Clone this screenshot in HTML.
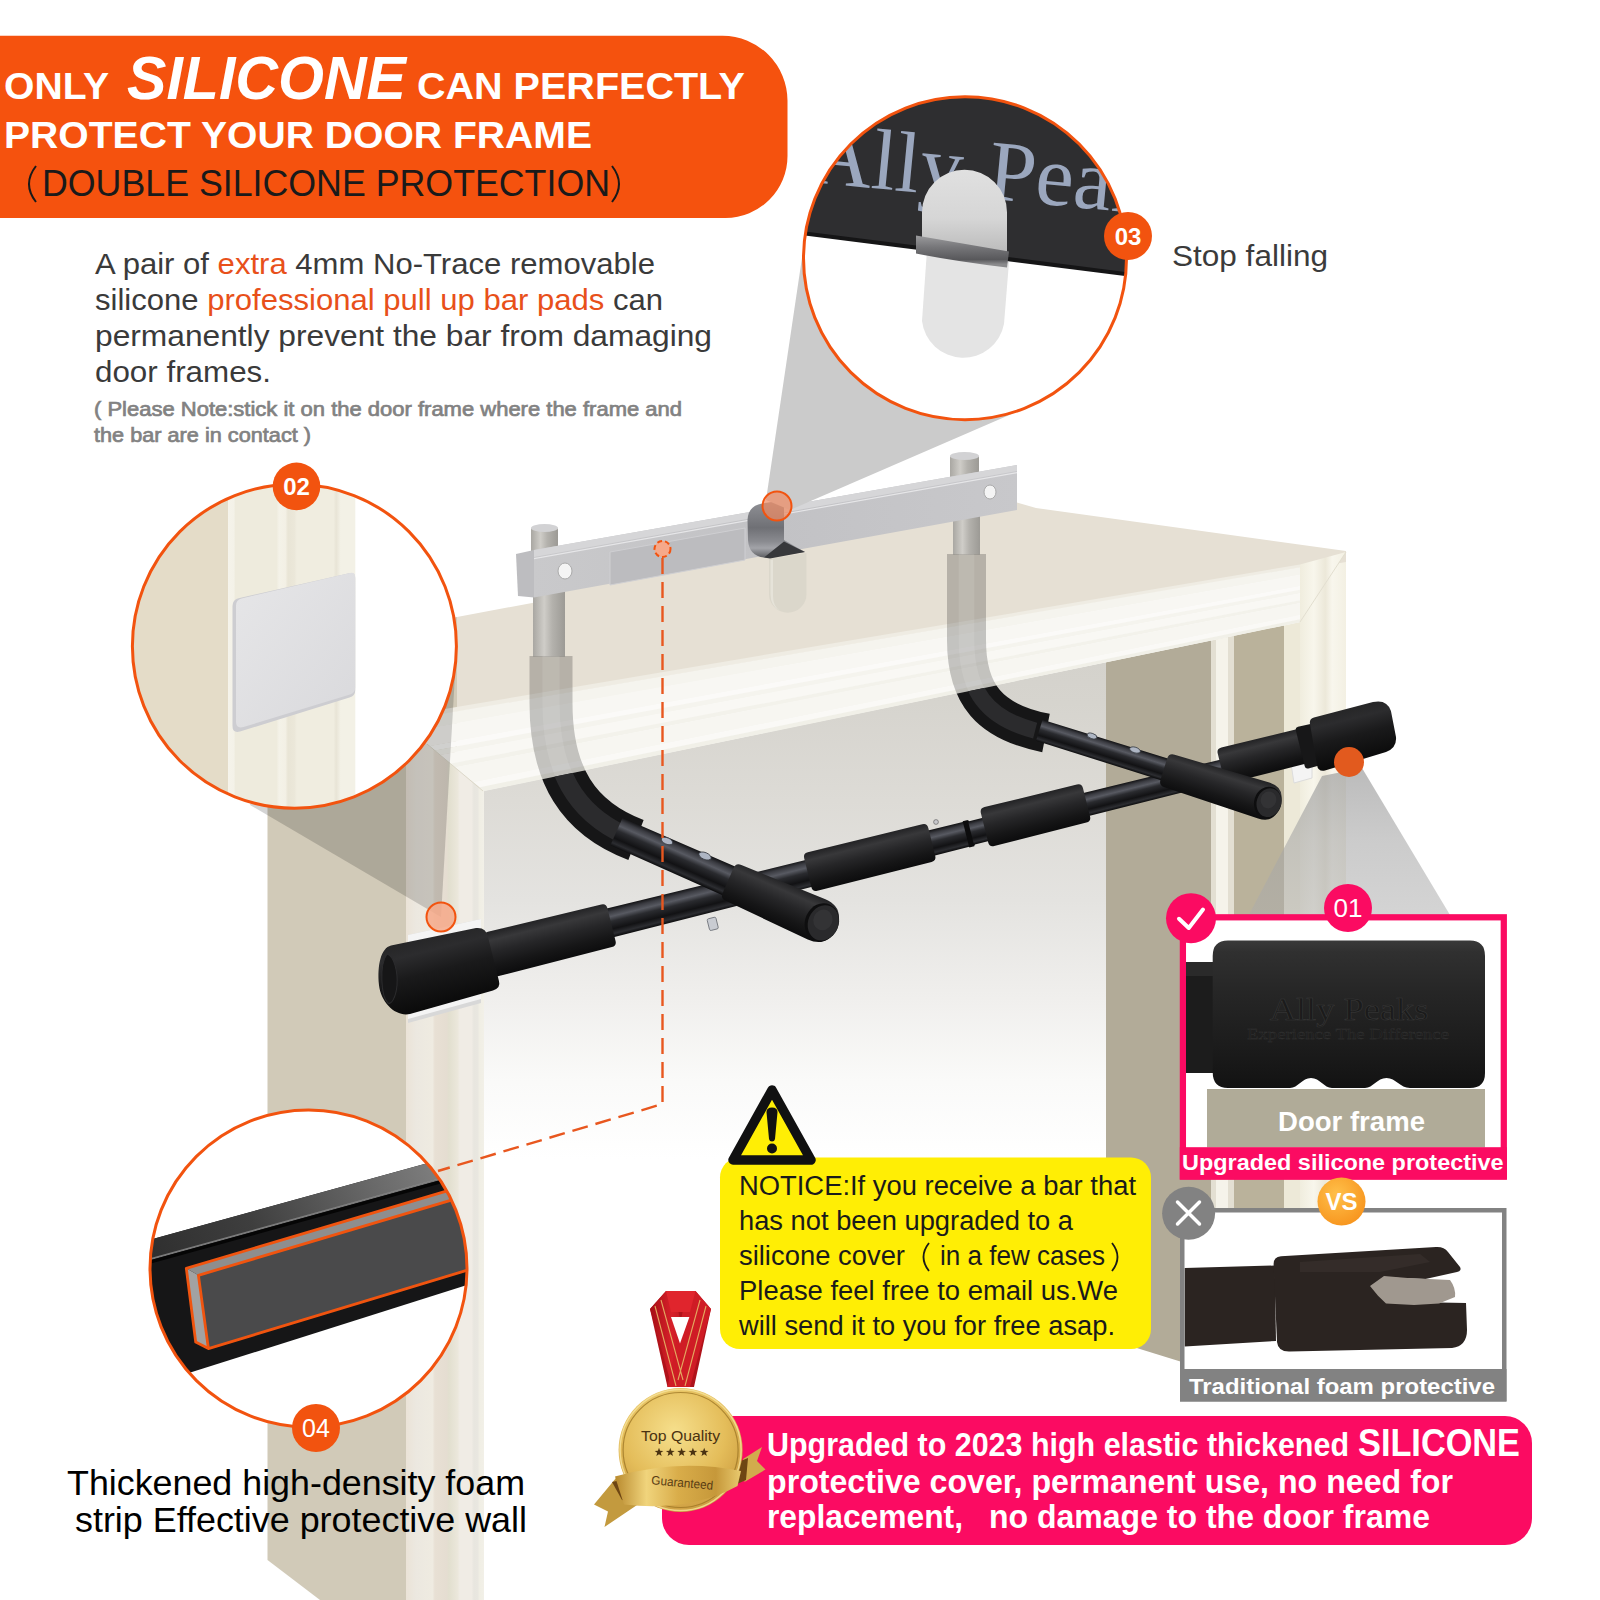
<!DOCTYPE html>
<html><head><meta charset="utf-8"><title>Silicone door frame protection</title>
<style>html,body{margin:0;padding:0;background:#fff}svg{display:block}text{white-space:pre}</style></head>
<body><svg width="1600" height="1600" viewBox="0 0 1600 1600">
<defs>
<linearGradient id="gDoor" x1="0" y1="640" x2="0" y2="1160" gradientUnits="userSpaceOnUse">
 <stop offset="0" stop-color="#d3d1cb"/><stop offset="0.12" stop-color="#d6d4ce"/><stop offset="0.31" stop-color="#dddbd6"/><stop offset="0.5" stop-color="#e4e3e0"/><stop offset="0.69" stop-color="#f0efed"/><stop offset="0.85" stop-color="#fafaf9"/><stop offset="1" stop-color="#ffffff"/>
</linearGradient>
<linearGradient id="gTrimH" x1="0" y1="0" x2="0.19" y2="1">
 <stop offset="0" stop-color="#ece8da"/><stop offset="0.25" stop-color="#f6f4ea"/><stop offset="0.55" stop-color="#fbfaf3"/><stop offset="0.8" stop-color="#f3f0e4"/><stop offset="1" stop-color="#f6f3e8"/>
</linearGradient>
<linearGradient id="gTrimL" x1="406" y1="0" x2="484" y2="0" gradientUnits="userSpaceOnUse">
 <stop offset="0" stop-color="#ebe3d7"/><stop offset="0.13" stop-color="#ece8e0"/><stop offset="0.34" stop-color="#efebe1"/><stop offset="0.37" stop-color="#e8e0d4"/><stop offset="0.52" stop-color="#e5ddd1"/><stop offset="0.55" stop-color="#e2dfcf"/><stop offset="0.66" stop-color="#ebe7db"/><stop offset="0.69" stop-color="#f0ece5"/><stop offset="0.84" stop-color="#f0ece5"/><stop offset="0.87" stop-color="#e8e6df"/><stop offset="0.92" stop-color="#e9e7e0"/><stop offset="0.94" stop-color="#f0eee4"/><stop offset="1" stop-color="#f2f0e8"/>
</linearGradient>
<linearGradient id="gTrimR" x1="1300" y1="0" x2="1346" y2="0" gradientUnits="userSpaceOnUse">
 <stop offset="0" stop-color="#f0edde"/><stop offset="0.3" stop-color="#f8f6ec"/><stop offset="0.55" stop-color="#ece8d9"/><stop offset="0.7" stop-color="#f8f6ed"/><stop offset="1" stop-color="#f3f0e3"/>
</linearGradient>
<linearGradient id="gPlate" x1="0" y1="0" x2="1" y2="0">
 <stop offset="0" stop-color="#c9c9cb"/><stop offset="0.5" stop-color="#c2c2c5"/><stop offset="1" stop-color="#c8c8cb"/>
</linearGradient>
<linearGradient id="gChrome" x1="0" y1="0" x2="1" y2="0">
 <stop offset="0" stop-color="#a9a7a2"/><stop offset="0.35" stop-color="#cfcdc8"/><stop offset="0.6" stop-color="#b4b2ad"/><stop offset="1" stop-color="#9c9a95"/>
</linearGradient>
<linearGradient id="gCone1" x1="0" y1="765" x2="0" y2="915" gradientUnits="userSpaceOnUse">
 <stop offset="0" stop-color="#9a9a9a" stop-opacity="0.68"/><stop offset="0.5" stop-color="#a6a6a6" stop-opacity="0.58"/><stop offset="1" stop-color="#acacac" stop-opacity="0.52"/>
</linearGradient>
<radialGradient id="gVS" cx="0.4" cy="0.35" r="0.7">
 <stop offset="0" stop-color="#ffc04a"/><stop offset="1" stop-color="#f7941d"/>
</radialGradient>
<radialGradient id="gMedal" cx="0.45" cy="0.35" r="0.75">
 <stop offset="0" stop-color="#f6df8c"/><stop offset="0.55" stop-color="#e4bd5a"/><stop offset="0.85" stop-color="#cfa043"/><stop offset="1" stop-color="#b98a2e"/>
</radialGradient>
<linearGradient id="gRibbon" x1="0" y1="0" x2="1" y2="1">
 <stop offset="0" stop-color="#f5dc8a"/><stop offset="0.5" stop-color="#c99535"/><stop offset="1" stop-color="#8a5a14"/>
</linearGradient>
<linearGradient id="gPad" x1="0" y1="0" x2="1" y2="1">
 <stop offset="0" stop-color="#e6e6e8"/><stop offset="1" stop-color="#d9d9dc"/>
</linearGradient>
<linearGradient id="gClipHook" x1="0" y1="0" x2="0" y2="1">
 <stop offset="0" stop-color="#dedede"/><stop offset="0.3" stop-color="#d4d4d4"/><stop offset="0.42" stop-color="#9a9a9a"/><stop offset="0.47" stop-color="#6f6f6f"/><stop offset="0.5" stop-color="#e2e2e2"/><stop offset="1" stop-color="#e9e9e9"/>
</linearGradient>
<linearGradient id="gCapBig" x1="0" y1="940" x2="0" y2="1090" gradientUnits="userSpaceOnUse">
 <stop offset="0" stop-color="#3a3a3a"/><stop offset="0.08" stop-color="#303030"/><stop offset="0.35" stop-color="#262626"/><stop offset="0.7" stop-color="#1c1c1c"/><stop offset="1" stop-color="#121212"/>
</linearGradient>

<linearGradient id="gFoam" x1="0" y1="0" x2="0" y2="1">
 <stop offset="0" stop-color="#222224"/><stop offset="0.2" stop-color="#38383a"/><stop offset="0.45" stop-color="#262628"/><stop offset="0.75" stop-color="#161617"/><stop offset="1" stop-color="#0c0c0d"/>
</linearGradient>
<linearGradient id="gTube" x1="0" y1="0" x2="0" y2="1">
 <stop offset="0" stop-color="#101012"/><stop offset="0.14" stop-color="#3a3b41"/><stop offset="0.3" stop-color="#585a62"/><stop offset="0.46" stop-color="#2a2b2f"/><stop offset="0.72" stop-color="#121214"/><stop offset="0.88" stop-color="#2c2d31"/><stop offset="1" stop-color="#09090a"/>
</linearGradient>
<linearGradient id="gCap" x1="0" y1="0" x2="0" y2="1">
 <stop offset="0" stop-color="#262627"/><stop offset="0.2" stop-color="#2c2c2e"/><stop offset="0.5" stop-color="#1a1a1b"/><stop offset="1" stop-color="#0a0a0a"/>
</linearGradient>
<linearGradient id="gFoamGhost" x1="0" y1="0" x2="1" y2="0">
 <stop offset="0" stop-color="#aeaca6"/><stop offset="0.5" stop-color="#b9b7b1"/><stop offset="1" stop-color="#a9a7a1"/>
</linearGradient>
<linearGradient id="gFoamV" x1="0" y1="0" x2="1" y2="0">
 <stop offset="0" stop-color="#101011"/><stop offset="0.4" stop-color="#2b2b2d"/><stop offset="1" stop-color="#141415"/>
</linearGradient>

<clipPath id="clipBelow"><polygon points="400,808.7 1400,601.9 1400,1700 400,1700"/></clipPath>
<clipPath id="clipAbove"><polygon points="400,808.7 1400,601.9 1400,300 400,300"/></clipPath>
<linearGradient id="gWrap" x1="0" y1="503" x2="0" y2="558" gradientUnits="userSpaceOnUse"><stop offset="0" stop-color="#8e8f94"/><stop offset="0.45" stop-color="#6f7075"/><stop offset="0.7" stop-color="#8a8b90"/><stop offset="0.82" stop-color="#a2a3a8"/><stop offset="1" stop-color="#5a5b5f"/></linearGradient>
<clipPath id="c02"><circle cx="294.4" cy="646.2" r="162.0"/></clipPath>
<clipPath id="c03"><circle cx="965.0" cy="258.2" r="161.5"/></clipPath>
<clipPath id="c04"><circle cx="308.5" cy="1268.5" r="158.5"/></clipPath>
<linearGradient id="g02trim" x1="228.3" y1="0" x2="355.2" y2="0" gradientUnits="userSpaceOnUse">
 <stop offset="0" stop-color="#f5f3ea"/><stop offset="0.045" stop-color="#f4f2e8"/><stop offset="0.055" stop-color="#eeebdd"/><stop offset="0.38" stop-color="#eeebdd"/>
 <stop offset="0.40" stop-color="#f4f2e8"/><stop offset="0.45" stop-color="#f3f0e5"/><stop offset="0.47" stop-color="#e9e5d6"/><stop offset="0.52" stop-color="#ebe7d9"/><stop offset="0.54" stop-color="#f0ede0"/>
 <stop offset="0.83" stop-color="#f0ede0"/><stop offset="0.85" stop-color="#e8e4d6"/><stop offset="0.885" stop-color="#f3f1e6"/><stop offset="1" stop-color="#f3f1e6"/>
</linearGradient>
<linearGradient id="g04top" x1="150" y1="1300" x2="470" y2="1150" gradientUnits="userSpaceOnUse">
 <stop offset="0" stop-color="#2c2c2c"/><stop offset="0.35" stop-color="#3e3e3e"/><stop offset="0.7" stop-color="#686868"/><stop offset="1" stop-color="#8a8a8a"/>
</linearGradient>
<linearGradient id="gHookU" x1="0" y1="170" x2="0" y2="250" gradientUnits="userSpaceOnUse"><stop offset="0" stop-color="#e0e0e0"/><stop offset="0.6" stop-color="#d6d6d6"/><stop offset="1" stop-color="#bdbdbd"/></linearGradient>
<linearGradient id="gHookB" x1="0" y1="236" x2="0.12" y2="268" gradientUnits="userSpaceOnUse"><stop offset="0" stop-color="#a4a4a6"/><stop offset="0.45" stop-color="#77777a"/><stop offset="0.85" stop-color="#58585b"/><stop offset="1" stop-color="#8a8a8c"/></linearGradient>
<linearGradient id="gRedL" x1="0" y1="0" x2="1" y2="0"><stop offset="0" stop-color="#a50f15"/><stop offset="0.5" stop-color="#d7202a"/><stop offset="1" stop-color="#a8121a"/></linearGradient>
<linearGradient id="gBan" x1="0" y1="0" x2="1" y2="0"><stop offset="0" stop-color="#b98a2e"/><stop offset="0.25" stop-color="#f0d47c"/><stop offset="0.5" stop-color="#d9ad4a"/><stop offset="0.8" stop-color="#c6983a"/><stop offset="1" stop-color="#e8c96e"/></linearGradient>
</defs>
<rect width="1600" height="1600" fill="#fff"/>
<g id="door"><polygon points="483.0,791.0 1106.0,662.2 1106.0,1340.0 483.0,1600.0" fill="url(#gDoor)"/>
<polygon points="1106.0,662.2 1211.0,640.4 1211.0,1371.0 1106.0,1338.4" fill="#b2ab98"/>
<polygon points="1211.0,640.4 1234.0,635.7 1234.0,1400.0 1211.0,1371.0" fill="#e3dfd2"/>
<polygon points="1216.0,639.4 1228.0,636.9 1228.0,1394.0 1216.0,1382.0" fill="#f5f3ea"/>
<polygon points="1234.0,635.7 1284.0,625.4 1284.0,1400.0 1234.0,1400.0" fill="#bab29b"/>
<polygon points="1284.0,625.4 1302.0,621.6 1302.0,1400.0 1284.0,1400.0" fill="#ede9d8"/>
<polygon points="1300.0,622.0 1346.0,552.0 1346.0,1400.0 1300.0,1400.0" fill="url(#gTrimR)"/>
<polygon points="267.5,652.6 457.0,617.0 457.0,760.0 406.0,760.0 406.0,1600.0 320.0,1600.0 267.5,1560.0" fill="#d1cab8"/>
<polygon points="457.0,617.0 556.0,598.4 562.0,590.0 1008.0,500.0 1036.0,508.0 1346.0,551.0 1346.0,562.0 457.0,712.9" fill="#e6e0d4"/>
<polygon points="406.0,715.5 1300.0,564.5 1300.0,567.6 406.0,720.5" fill="#efece3"/>
<polygon points="406.0,720.1 1300.0,567.3 1300.0,575.1 406.0,732.4" fill="#f5f4ee"/>
<polygon points="406.0,732.0 1300.0,574.8 1300.0,586.6 406.0,750.6" fill="#f8f7f3"/>
<polygon points="406.0,750.3 1300.0,586.3 1300.0,590.0 406.0,756.1" fill="#fbfaf8"/>
<polygon points="406.0,755.8 1300.0,589.8 1300.0,593.5 406.0,761.6" fill="#f5f4ee"/>
<polygon points="406.0,761.2 1300.0,593.3 1300.0,600.4 406.0,772.6" fill="#f9f8f4"/>
<polygon points="406.0,772.2 1300.0,600.2 1300.0,603.3 406.0,777.1" fill="#f3f2eb"/>
<polygon points="406.0,776.8 1300.0,603.0 1300.0,615.4 406.0,796.3" fill="#f7f6f1"/>
<polygon points="406.0,796.0 1300.0,615.1 1300.0,619.4 406.0,802.7" fill="#faf9f6"/>
<polygon points="406.0,802.4 1300.0,619.2 1300.0,622.3 406.0,807.3" fill="#f1f0e8"/>
<polygon points="1300.0,564.5 1346.0,552.0 1300.0,622.0" fill="url(#gTrimR)"/>
<path d="M1300,622.0 L1346,552" stroke="#e2decf" stroke-width="1" fill="none"/>
<polygon points="406.0,725.5 430.0,747.0 484.0,790.8 484.0,1600.0 406.0,1600.0" fill="url(#gTrimL)"/>
<path d="M427,744 L483,791.0" stroke="#dcd8c9" stroke-width="1" fill="none"/></g>
<polygon points="441.0,917.0 250.0,805.0 294.4,646.2 456.1,655.6" fill="#000" opacity="0.17"/>
<g id="bar"><rect x="531" y="527" width="27" height="40" rx="3" fill="url(#gChrome)"/><ellipse cx="544.5" cy="528" rx="13.5" ry="4" fill="#d2d2d4"/><rect x="950" y="455" width="29" height="40" rx="3" fill="url(#gChrome)"/><ellipse cx="964.5" cy="456" rx="14.5" ry="4" fill="#d2d2d4"/><rect x="533" y="590" width="32" height="66.5" fill="url(#gChrome)"/><rect x="953" y="505" width="27" height="49.5" fill="url(#gChrome)"/><polygon points="534.0,550.0 1017.0,465.0 1017.0,510.0 534.0,597.5" fill="url(#gPlate)"/><polygon points="534.0,550.0 1017.0,465.0 1017.0,471.0 534.0,557.0" fill="#d6d6d8"/><polygon points="516.0,554.0 534.0,550.0 534.0,597.5 518.0,596.0" fill="#bdbdc0"/><polygon points="534.0,558.0 1017.0,472.0 1017.0,473.2 534.0,559.2" fill="#e6e6e8"/><polygon points="610.0,552.0 745.0,528.0 745.0,560.0 610.0,585.0" fill="#bcbcbf" stroke="#cfcfd2" stroke-width="1"/><ellipse cx="565" cy="571" rx="7" ry="8" fill="#f4f4f4" stroke="#aaa" stroke-width="1"/><ellipse cx="990" cy="492" rx="6" ry="7" fill="#f4f4f4" stroke="#aaa" stroke-width="1"/><path d="M769,559 L806.5,553 L806.5,594 A18.7,18.7 0 0 1 769,594 Z" fill="#dbd7cb"/><path d="M770.5,560 L773,559.5 L773,596 Q773,606 780,611 Q770.5,606 770.5,594 Z" fill="#e6e3d9"/><path d="M762,503.5 Q748,506 747.5,520 L748,540 Q749,556 764,557.5 L805,552 L784,540 L784,500 Z" fill="url(#gWrap)"/><path d="M764,557.5 L784,541.5 L805,552 L770,558.5 Z" fill="#37383b"/><g clip-path="url(#clipAbove)"><path d="M551,656 L551,703 C551,775 578,818 636,840" fill="none" stroke="#1e1e1e" stroke-width="43" opacity="0.24"/><path d="M551,656 L551,703 C551,775 578,818 636,840" fill="none" stroke="#ffffff" stroke-width="17.2" opacity="0.10"/></g><g clip-path="url(#clipBelow)"><path d="M551,656 L551,703 C551,775 578,818 636,840" fill="none" stroke="#161617" stroke-width="43"/><path d="M551,656 L551,703 C551,775 578,818 636,840" fill="none" stroke="#2b2b2d" stroke-width="18.06" pathLength="1" stroke-dasharray="0.95 1"/></g><g clip-path="url(#clipAbove)"><path d="M966.5,554 L966.5,640 C966.5,695 990,722 1046,733" fill="none" stroke="#1e1e1e" stroke-width="39" opacity="0.24"/><path d="M966.5,554 L966.5,640 C966.5,695 990,722 1046,733" fill="none" stroke="#ffffff" stroke-width="15.600000000000001" opacity="0.10"/></g><g clip-path="url(#clipBelow)"><path d="M966.5,554 L966.5,640 C966.5,695 990,722 1046,733" fill="none" stroke="#161617" stroke-width="39"/><path d="M966.5,554 L966.5,640 C966.5,695 990,722 1046,733" fill="none" stroke="#2b2b2d" stroke-width="16.38" pathLength="1" stroke-dasharray="0.95 1"/></g><polygon points="408.0,935.0 481.0,919.0 481.0,1003.0 408.0,1023.0" fill="#d8d8d8"/><polygon points="408.0,935.0 481.0,919.0 481.0,999.0 408.0,1019.0" fill="#f4f4f4"/><polygon points="1288.0,744.0 1312.0,737.0 1312.0,778.0 1294.0,783.0" fill="#f4f4f4" stroke="#dcdcdc" stroke-width="1"/><g fill="#c9ccd2" stroke="#6c6f76" stroke-width="0.8"><rect x="708" y="918" width="9" height="12" rx="1.5" transform="rotate(-14 712 923)"/><rect x="1150" y="786" width="8" height="10" rx="1.5" transform="rotate(-14 1154 790)"/></g><circle cx="936" cy="822" r="2.4" fill="#c8c8cc" stroke="#555" stroke-width="0.6"/><g transform="translate(380.0,980.0) rotate(-13.954)"><path d="M226.7,-14.8 L445.1,-13.8 L445.1,13.8 L226.7,14.8 Z" fill="url(#gTube)" /><path d="M562.6,-13.0 L610.0,-12.8 L610.0,12.8 L562.6,13.0 Z" fill="url(#gTube)" /><path d="M607.9,-12.0 L628.5,-12.0 L628.5,12.0 L607.9,12.0 Z" fill="url(#gTube)" /><path d="M603.8,-13.6 L609.0,-13.6 L609.0,13.6 L603.8,13.6 Z" fill="#0c0c0d" /><path d="M719.2,-11.8 L873.8,-11.2 L873.8,11.2 L719.2,11.8 Z" fill="url(#gTube)" /><g transform="translate(0,2)"><path d="M116.3,-22.8 L233.0,-22.0 Q238.0,-22.0 238.0,-17.0 L238.0,17.0 Q238.0,22.0 233.0,22.0 L116.3,22.8 Q111.3,22.8 111.3,17.8 L111.3,-17.8 Q111.3,-22.8 116.3,-22.8 Z" fill="url(#gFoam)" /></g><g transform="translate(0,-1)"><path d="M446.0,-19.8 L563.8,-19.4 Q568.8,-19.4 568.8,-14.4 L568.8,14.4 Q568.8,19.4 563.8,19.4 L446.0,19.8 Q441.0,19.8 441.0,14.8 L441.0,-14.8 Q441.0,-19.8 446.0,-19.8 Z" fill="url(#gFoam)" /></g><g transform="translate(0,-2)"><path d="M628.4,-20.0 L723.5,-19.6 Q728.5,-19.6 728.5,-14.6 L728.5,14.6 Q728.5,19.6 723.5,19.6 L628.4,20.0 Q623.4,20.0 623.4,15.0 L623.4,-15.0 Q623.4,-20.0 628.4,-20.0 Z" fill="url(#gFoam)" /></g><g transform="translate(0,-4.5)"><path d="M872.6,-18.2 L955.3,-17.8 Q960.3,-17.8 960.3,-12.8 L960.3,12.8 Q960.3,17.8 955.3,17.8 L872.6,18.2 Q867.6,18.2 867.6,13.2 L867.6,-13.2 Q867.6,-18.2 872.6,-18.2 Z" fill="url(#gFoam)" /></g><g transform="translate(0,-3)"><path d="M952.0,-21.5 L970.6,-21.0 L970.6,21.0 L952.0,21.5 Q949.0,21.5 949.0,18.5 L949.0,-18.5 Q949.0,-21.5 952.0,-21.5 Z" fill="#171718" /></g><path d="M19.0,-30.8 L105.7,-27.3 Q115.7,-25.9 115.2,-15.7 L115.2,29.7 Q115.5,36.9 107.1,37.4 L20.9,40.2 C6.6,39.8 -4.6,22.6 -2.2,4.6 C0.7,-15.3 8.7,-30.8 19.0,-30.8 Z" fill="url(#gCap)" /><path d="M13.1,-23.5 C19.4,-19.9 19.4,-3.4 15.3,9.0 C11.2,21.3 4.6,26.9 2.2,24.3 C-3.1,16.7 2.6,-14.8 13.1,-23.5 Z" fill="#161617" stroke="#2c2c2e" stroke-width="1"/><path d="M969.7,-29.5 L1030.7,-30.3 Q1045.0,-29.9 1046.0,-17.3 L1044.6,9.2 Q1042.9,20.1 1031.3,21.3 L967.6,24.6 Q960.5,24.3 961.2,17.3 L964.3,-24.2 Q964.5,-29.3 969.7,-29.5 Z" fill="url(#gCap)" /></g><g transform="translate(622.0,834.0) rotate(23.686)"><path d="M-6.0,-15.0 L119.8,-15.6 L119.8,15.6 L-6.0,15.0 Z" fill="url(#gTube)" /><path d="M121.8,-19.5 L212.5,-22.0 Q233.5,-22.0 233.5,-1.0 L233.5,1.0 Q233.5,22.0 212.5,22.0 L121.8,19.5 Q115.8,19.5 115.8,13.5 L115.8,-13.5 Q115.8,-19.5 121.8,-19.5 Z" fill="url(#gFoam)" /><ellipse cx="218.5" cy="0.5" rx="16.8" ry="19.5" fill="#0e0e0f"/><ellipse cx="220.0" cy="0.5" rx="15.1" ry="18.1" fill="#2a2a2c"/><ellipse cx="218.5" cy="-2" rx="9.5" ry="10.5" fill="#363638" opacity="0.8"/></g><g transform="translate(1045.0,732.0) rotate(17.396)"><path d="M-6.0,-11.0 L128.5,-11.4 L128.5,11.4 L-6.0,11.0 Z" fill="url(#gTube)" /><path d="M130.5,-17.0 L229.2,-18.8 Q246.2,-18.8 246.2,-1.8 L246.2,1.8 Q246.2,18.8 229.2,18.8 L130.5,17.0 Q124.5,17.0 124.5,11.0 L124.5,-11.0 Q124.5,-17.0 130.5,-17.0 Z" fill="url(#gFoam)" /><ellipse cx="233.6" cy="0.5" rx="13.6" ry="15.8" fill="#0e0e0f"/><ellipse cx="234.8" cy="0.5" rx="12.2" ry="14.6" fill="#2a2a2c"/><ellipse cx="233.6" cy="-2" rx="7.7" ry="8.5" fill="#363638" opacity="0.8"/></g><g fill="#aeb6c4" stroke="#3b3f46" stroke-width="0.8"><ellipse cx="667" cy="841" rx="6" ry="3.2" transform="rotate(23 667 841)"/><ellipse cx="705" cy="856" rx="6.5" ry="3.4" transform="rotate(23 705 856)"/><ellipse cx="1092" cy="736" rx="5" ry="2.6" transform="rotate(18 1092 736)"/><ellipse cx="1135" cy="750" rx="5.5" ry="2.8" transform="rotate(18 1135 750)"/></g></g>
<polygon points="766.0,500.0 804.4,241.6 965.0,258.2 1024.3,408.4 790.0,510.0" fill="#cbcbcb"/>
<polygon points="1322.0,776.0 1248.8,915.0 1450.0,915.0 1362.0,768.0" fill="url(#gCone1)"/>
<circle cx="441" cy="917" r="14.5" fill="#f6a98a" fill-opacity="0.85" stroke="#f2530f" stroke-width="2"/><circle cx="777" cy="506" r="14.5" fill="#f08a62" fill-opacity="0.7" stroke="#f2530f" stroke-width="2"/><circle cx="1349" cy="762" r="15" fill="#e25a1e"/><circle cx="662.5" cy="549" r="8" fill="#f6a98a" stroke="#f2530f" stroke-width="2" stroke-dasharray="5 3"/>
<path d="M662.5,558 L662.5,1104 L438,1171" fill="none" stroke="#e8571f" stroke-width="2.4" stroke-dasharray="16 8"/>
<circle cx="294.4" cy="646.2" r="162.0" fill="#fff"/><g clip-path="url(#c02)"><rect x="120" y="470" width="108.3" height="350" fill="#e4dcc8"/><rect x="228.3" y="470" width="127" height="350" fill="url(#g02trim)"/><path d="M232.5,606 Q232.5,600 238.5,598.3 L349,573.3 Q355.2,572 355.2,578 L355.2,690.5 Q355.2,696 349.5,697.5 L240,731.5 Q232.5,733.5 232.5,726 Z" fill="#cdcdd1"/><path d="M236,605.5 Q236,600 241.5,598.5 L350,573 Q355.2,572 355.2,577 L355.2,687.5 Q355.2,693 350,694.5 L243.5,727 Q236,729 236,722 Z" fill="url(#gPad)"/></g><circle cx="294.4" cy="646.2" r="162.0" fill="none" stroke="#f2530f" stroke-width="3"/><circle cx="296.5" cy="486.4" r="23.8" fill="#f2530f"/><text x="296.5" y="495.03999999999996" font-family="Liberation Sans, sans-serif" font-size="24" font-weight="bold" fill="#fff" text-anchor="middle" >02</text>
<circle cx="965.0" cy="258.2" r="161.5" fill="#fff"/><g clip-path="url(#c03)"><polygon points="790.0,80.0 1140.0,80.0 1140.0,277.0 790.0,232.7" fill="#2e2e30"/><polygon points="790.0,229.5 1140.0,273.8 1140.0,278.0 790.0,233.7" fill="#151516"/><g transform="rotate(5.5 877 188)"><text x="808" y="188.5" font-family="Liberation Serif, serif" font-size="86" fill="#9ba7be">Ally</text><text x="986.5" y="188" font-family="Liberation Serif, serif" font-size="86" fill="#9ba7be">Peaks</text></g><path d="M922,240 L922,212.2 A42.5,42.5 0 0 1 1007,212.2 L1007,256 Z" fill="url(#gHookU)"/><path d="M927,250 L1009,262 L1004,324 A41.5,41.5 0 0 1 922,321 Z" fill="#e4e4e4"/><path d="M916,235.6 L1009,251.5 L1007,267.5 Q960,262 916,253.6 Z" fill="url(#gHookB)"/></g><circle cx="965.0" cy="258.2" r="161.5" fill="none" stroke="#f2530f" stroke-width="3"/><circle cx="1128" cy="236" r="24" fill="#f2530f"/><text x="1128" y="244.64" font-family="Liberation Sans, sans-serif" font-size="24" font-weight="bold" fill="#fff" text-anchor="middle" >03</text><text x="1172" y="266" font-family="Liberation Sans, sans-serif" font-size="30" font-weight="normal" fill="#3b3b3b" text-anchor="start" textLength="156" lengthAdjust="spacingAndGlyphs" >Stop falling</text>
<circle cx="308.5" cy="1268.5" r="158.5" fill="#fff"/><g clip-path="url(#c04)"><polygon points="140.0,1242.4 480.0,1148.6 480.0,1281.0 140.0,1388.4" fill="#161617"/><polygon points="140.0,1242.4 480.0,1148.6 480.0,1167.6 140.0,1261.4" fill="url(#g04top)"/><polygon points="140.0,1260.9 480.0,1167.1 480.0,1169.1 140.0,1262.9" fill="#9a9a9a" opacity="0.75"/><polygon points="140.0,1262.9 480.0,1169.1 480.0,1172.6 140.0,1266.4" fill="#050505"/><polygon points="186.3,1268.3 480.0,1181.1 480.0,1191.7 198.4,1275.3" fill="#8e8e8e"/><polygon points="186.3,1268.3 198.4,1275.3 208.4,1348.6 195.7,1342.0" fill="#a2a2a2"/><polygon points="198.4,1275.3 480.0,1191.7 480.0,1266.3 208.4,1348.6" fill="#4a4a4b"/><path d="M480,1181.1 L186.3,1268.3 L195.7,1342 L208.4,1348.6 L480,1266.3 M480,1191.7 L198.4,1275.3 L208.4,1348.6" fill="none" stroke="#f0540f" stroke-width="2.8" stroke-linejoin="round"/></g><circle cx="308.5" cy="1268.5" r="158.5" fill="none" stroke="#f2530f" stroke-width="3"/><circle cx="316" cy="1428" r="24" fill="#f2530f"/><text x="316" y="1437.0" font-family="Liberation Sans, sans-serif" font-size="25" font-weight="normal" fill="#fff" text-anchor="middle" >04</text><text x="67" y="1495" font-family="Liberation Sans, sans-serif" font-size="35" font-weight="normal" fill="#000" text-anchor="start" textLength="458" lengthAdjust="spacingAndGlyphs" >Thickened high-density foam</text><text x="75" y="1532" font-family="Liberation Sans, sans-serif" font-size="35" font-weight="normal" fill="#000" text-anchor="start" textLength="452" lengthAdjust="spacingAndGlyphs" >strip Effective protective wall</text>
<path d="M0,35.75 L722.5,35.75 A65,65 0 0 1 787.5,100.75 L787.5,156 A62,62 0 0 1 725.5,218 L0,218 Z" fill="#f5520e"/><text x="4" y="98.5" font-family="Liberation Sans, sans-serif" font-size="36" font-weight="bold" fill="#fff" text-anchor="start" textLength="105" lengthAdjust="spacingAndGlyphs" >ONLY</text><text x="127" y="98.5" font-family="Liberation Sans, sans-serif" font-size="62" font-weight="bold" fill="#fff" text-anchor="start" textLength="279" lengthAdjust="spacingAndGlyphs" font-style="italic" >SILICONE</text><text x="417" y="98.5" font-family="Liberation Sans, sans-serif" font-size="36" font-weight="bold" fill="#fff" text-anchor="start" textLength="328" lengthAdjust="spacingAndGlyphs" >CAN PERFECTLY</text><text x="4" y="147.5" font-family="Liberation Sans, sans-serif" font-size="37" font-weight="bold" fill="#fff" text-anchor="start" textLength="588" lengthAdjust="spacingAndGlyphs" >PROTECT YOUR DOOR FRAME</text><text x="42" y="196" font-family="Liberation Sans, sans-serif" font-size="36" font-weight="normal" fill="#1a1a1a" text-anchor="start" textLength="568" lengthAdjust="spacingAndGlyphs" >DOUBLE SILICONE PROTECTION</text><path d="M36,166 Q22,184 36,202" fill="none" stroke="#1a1a1a" stroke-width="2"/><path d="M612,166 Q626,184 612,202" fill="none" stroke="#1a1a1a" stroke-width="2"/>
<text x="95" y="274" font-family="Liberation Sans, sans-serif" font-size="30" textLength="560" lengthAdjust="spacingAndGlyphs" xml:space="preserve"><tspan fill="#3a3a3a">A pair of </tspan><tspan fill="#e8501a">extra</tspan><tspan fill="#3a3a3a"> 4mm No-Trace removable</tspan></text><text x="95" y="310" font-family="Liberation Sans, sans-serif" font-size="30" textLength="568" lengthAdjust="spacingAndGlyphs" xml:space="preserve"><tspan fill="#3a3a3a">silicone </tspan><tspan fill="#e8501a">professional pull up bar pads</tspan><tspan fill="#3a3a3a"> can</tspan></text><text x="95" y="346" font-family="Liberation Sans, sans-serif" font-size="30" textLength="617" lengthAdjust="spacingAndGlyphs" xml:space="preserve"><tspan fill="#3a3a3a">permanently prevent the bar from damaging</tspan></text><text x="95" y="382" font-family="Liberation Sans, sans-serif" font-size="30" textLength="176" lengthAdjust="spacingAndGlyphs" xml:space="preserve"><tspan fill="#3a3a3a">door frames.</tspan></text><text x="94" y="416" font-family="Liberation Sans, sans-serif" font-size="20" font-weight="normal" fill="#828282" text-anchor="start" textLength="588" lengthAdjust="spacingAndGlyphs" stroke="#828282" stroke-width="0.7">( Please Note:stick it on the door frame where the frame and</text><text x="94" y="442" font-family="Liberation Sans, sans-serif" font-size="20" font-weight="normal" fill="#828282" text-anchor="start" textLength="217" lengthAdjust="spacingAndGlyphs" stroke="#828282" stroke-width="0.7">the bar are in contact )</text>
<rect x="720" y="1157.5" width="431" height="191.5" rx="20" fill="#ffee05"/><path d="M772,1090 L811,1160 L733,1160 Z" fill="#ffee05" stroke="#111" stroke-width="9.5" stroke-linejoin="round"/><path d="M766.5,1112 Q766.5,1107.5 772,1107.5 Q777.5,1107.5 777.5,1112 L775,1139 Q774.5,1141.5 772,1141.5 Q769.5,1141.5 769,1139 Z" fill="#111"/><circle cx="772" cy="1148.5" r="5" fill="#111"/><text x="739" y="1195" font-family="Liberation Sans, sans-serif" font-size="27" font-weight="normal" fill="#1a1a1a" text-anchor="start" textLength="397" lengthAdjust="spacingAndGlyphs" >NOTICE:If you receive a bar that</text><text x="739" y="1230" font-family="Liberation Sans, sans-serif" font-size="27" font-weight="normal" fill="#1a1a1a" text-anchor="start" textLength="334" lengthAdjust="spacingAndGlyphs" >has not been upgraded to a</text><text x="739" y="1265" font-family="Liberation Sans, sans-serif" font-size="27" font-weight="normal" fill="#1a1a1a" text-anchor="start" textLength="166" lengthAdjust="spacingAndGlyphs" >silicone cover</text><text x="739" y="1300" font-family="Liberation Sans, sans-serif" font-size="27" font-weight="normal" fill="#1a1a1a" text-anchor="start" textLength="379" lengthAdjust="spacingAndGlyphs" >Please feel free to email us.We</text><text x="739" y="1335" font-family="Liberation Sans, sans-serif" font-size="27" font-weight="normal" fill="#1a1a1a" text-anchor="start" textLength="376" lengthAdjust="spacingAndGlyphs" >will send it to you for free asap.</text><text x="940" y="1265" font-family="Liberation Sans, sans-serif" font-size="27" font-weight="normal" fill="#1a1a1a" text-anchor="start" textLength="165" lengthAdjust="spacingAndGlyphs" >in a few cases</text><path d="M929,1243 Q918,1257 929,1271" fill="none" stroke="#1a1a1a" stroke-width="1.8"/><path d="M1112,1243 Q1123,1257 1112,1271" fill="none" stroke="#1a1a1a" stroke-width="1.8"/>
<rect x="662" y="1416" width="870" height="129" rx="27" fill="#fb0b62"/><text x="767" y="1456" font-family="Liberation Sans, sans-serif" font-size="33" font-weight="bold" fill="#fff" text-anchor="start" textLength="582" lengthAdjust="spacingAndGlyphs" >Upgraded to 2023 high elastic thickened</text><text x="1358" y="1456" font-family="Liberation Sans, sans-serif" font-size="39" font-weight="bold" fill="#fff" text-anchor="start" textLength="162" lengthAdjust="spacingAndGlyphs" >SILICONE</text><text x="767" y="1492.5" font-family="Liberation Sans, sans-serif" font-size="33" font-weight="bold" fill="#fff" text-anchor="start" textLength="686" lengthAdjust="spacingAndGlyphs" >protective cover, permanent use, no need for</text><text x="767" y="1528" font-family="Liberation Sans, sans-serif" font-size="33" font-weight="bold" fill="#fff" text-anchor="start" textLength="196" lengthAdjust="spacingAndGlyphs" >replacement,</text><text x="989" y="1528" font-family="Liberation Sans, sans-serif" font-size="33" font-weight="bold" fill="#fff" text-anchor="start" textLength="441" lengthAdjust="spacingAndGlyphs" >no damage to the door frame</text>
<path d="M666,1291 L695.5,1291 L711,1309 L694,1387 L667.5,1387 L650,1309 Z" fill="#b0121a"/><path d="M650,1309 L666,1291 L676,1300 L694,1387 L672,1387 Z" fill="url(#gRedL)"/><path d="M711,1309 L695.5,1291 L685,1300 L667.5,1387 L690,1387 Z" fill="#cf1c25"/><path d="M666,1291 L695.5,1291 L690,1312 L671,1312 Z" fill="#e0252d"/><path d="M671,1317 L689.4,1317 L680,1343.5 Z" fill="#fff"/><path d="M655,1306 L676,1386 M661,1300 L683,1380 M706,1306 L685,1386 M700,1300 L678,1380" stroke="#e6b866" stroke-width="1.1" fill="none" opacity="0.9"/><path d="M616,1478 L594,1504.5 L608,1511.5 L604.5,1527 L640,1503 Z" fill="#c39a3e"/><path d="M612,1482 L630,1478 L640,1503 L622,1500 Z" fill="#6e4613"/><path d="M743,1459 L762,1447 L757,1461 L765.5,1469.5 L744.5,1482 Z" fill="#d2ab4d"/><path d="M738,1462 L748,1458 L746,1480 L737,1484 Z" fill="#6e4613"/><circle cx="680.6" cy="1450" r="62" fill="url(#gMedal)"/><circle cx="680.6" cy="1450" r="57.5" fill="none" stroke="#9b7424" stroke-width="1.2" opacity="0.75"/><circle cx="680.6" cy="1450" r="60.5" fill="none" stroke="#f6e39c" stroke-width="1.5" opacity="0.8"/><path d="M615,1476.5 Q678,1458 741,1471 L737.5,1486 Q690,1512 624,1504.5 Z" fill="url(#gBan)"/><text x="680.6" y="1440.6" font-family="Liberation Sans, sans-serif" font-size="15.5" font-weight="normal" fill="#4a3211" text-anchor="middle" textLength="79" lengthAdjust="spacingAndGlyphs" >Top Quality</text><polygon points="659.00,1447.70 660.08,1450.81 663.37,1450.88 660.75,1452.87 661.70,1456.02 659.00,1454.14 656.30,1456.02 657.25,1452.87 654.63,1450.88 657.92,1450.81" fill="#4a3211"/><polygon points="670.30,1447.70 671.38,1450.81 674.67,1450.88 672.05,1452.87 673.00,1456.02 670.30,1454.14 667.60,1456.02 668.55,1452.87 665.93,1450.88 669.22,1450.81" fill="#4a3211"/><polygon points="681.60,1447.70 682.68,1450.81 685.97,1450.88 683.35,1452.87 684.30,1456.02 681.60,1454.14 678.90,1456.02 679.85,1452.87 677.23,1450.88 680.52,1450.81" fill="#4a3211"/><polygon points="692.90,1447.70 693.98,1450.81 697.27,1450.88 694.65,1452.87 695.60,1456.02 692.90,1454.14 690.20,1456.02 691.15,1452.87 688.53,1450.88 691.82,1450.81" fill="#4a3211"/><polygon points="704.20,1447.70 705.28,1450.81 708.57,1450.88 705.95,1452.87 706.90,1456.02 704.20,1454.14 701.50,1456.02 702.45,1452.87 699.83,1450.88 703.12,1450.81" fill="#4a3211"/><text x="682" y="1487" font-family="Liberation Sans, sans-serif" font-size="12.5" fill="#5a3d14" text-anchor="middle" textLength="62" lengthAdjust="spacingAndGlyphs" transform="rotate(5 682 1487)">Guaranteed</text>
<rect x="1182.9" y="917.3" width="320.9" height="259.2" fill="#fff" stroke="#fb0b62" stroke-width="6.25"/><rect x="1186" y="962" width="30" height="111" fill="#1c1c1c"/><rect x="1186" y="962" width="30" height="14" fill="#2a2a2a"/><path d="M1228,940.5 L1470,940.5 Q1485,940.5 1485,956 L1485,1073 Q1485,1088 1470,1088 L1410,1088 C1400,1088 1396,1078 1386.5,1078 C1377,1078 1373,1088 1365,1088 L1332,1088 C1324,1088 1320,1078 1311,1078 C1302,1078 1298,1088 1290,1088 L1228,1088 Q1212.7,1088 1212.7,1072 L1212.7,956 Q1212.7,940.5 1228,940.5 Z" fill="url(#gCapBig)"/><text x="1349" y="1020" font-family="Liberation Serif, serif" font-size="32" fill="#1b1b1b" stroke="#3a3a3a" stroke-width="0.5" text-anchor="middle" textLength="158.6" lengthAdjust="spacingAndGlyphs">Ally Peaks</text><text x="1348" y="1039" font-family="Liberation Serif, serif" font-size="14.5" fill="#1d1d1d" stroke="#353535" stroke-width="0.3" text-anchor="middle" textLength="202" lengthAdjust="spacingAndGlyphs">Experience The Difference</text><rect x="1207" y="1089" width="278" height="58.5" fill="#b0ab98"/><text x="1351.5" y="1130.8" font-family="Liberation Sans, sans-serif" font-size="27.5" font-weight="bold" fill="#fff" text-anchor="middle" textLength="147" lengthAdjust="spacingAndGlyphs" >Door frame</text><rect x="1179.8" y="1147.2" width="327.1" height="32.4" fill="#fb0b62"/><text x="1342.8" y="1170" font-family="Liberation Sans, sans-serif" font-size="21.8" font-weight="bold" fill="#fff" text-anchor="middle" textLength="321.6" lengthAdjust="spacingAndGlyphs" >Upgraded silicone protective</text><circle cx="1348" cy="908" r="24" fill="#fb0b62"/><text x="1348" y="917.3" font-family="Liberation Sans, sans-serif" font-size="26" font-weight="normal" fill="#fff" text-anchor="middle" >01</text><circle cx="1191" cy="918.2" r="25" fill="#fb0b62"/><path d="M1179,918.75 L1188.75,928 L1203,909.5" fill="none" stroke="#fff" stroke-width="4" stroke-linecap="round" stroke-linejoin="round"/><rect x="1182.25" y="1210.25" width="322" height="189" fill="#fff" stroke="#828282" stroke-width="4.5"/><path d="M1184.75,1268 L1274.75,1265.5 L1276,1341 L1184.75,1346.5 Z" fill="#2b2421"/><path d="M1273.6,1264 Q1273.6,1257 1281,1256.3 L1436,1247 Q1444,1246.5 1448,1252 L1460,1267 Q1462,1271 1457,1272 L1425.5,1279 L1400,1278 L1385,1277 L1371.5,1286 L1379,1295 L1387,1302.6 L1414,1304 L1439,1302.6 L1466,1303 L1467,1330 Q1467,1346 1452,1348 L1290,1351.5 Q1278,1352 1277,1342 Z" fill="#2b2421"/><path d="M1370,1286 L1384,1276 L1407.5,1278 L1450,1280 Q1456,1288 1455,1297 L1439,1303.6 L1414,1305 L1386,1303.6 L1378,1295.75 Z" fill="#a0988f"/><path d="M1300,1262 L1420,1254 L1430,1262 L1380,1272 L1300,1272 Z" fill="#3a322e" opacity="0.6"/><rect x="1180" y="1369" width="326.5" height="32.5" fill="#828282"/><text x="1342" y="1393.75" font-family="Liberation Sans, sans-serif" font-size="22.5" font-weight="bold" fill="#fff" text-anchor="middle" textLength="306" lengthAdjust="spacingAndGlyphs" >Traditional foam protective</text><circle cx="1188.6" cy="1213.3" r="26.5" fill="#828282"/><path d="M1177.5,1202 L1199.5,1224 M1199.5,1202 L1177.5,1224" stroke="#fff" stroke-width="3.5" stroke-linecap="round" fill="none"/><circle cx="1341.5" cy="1201.5" r="24" fill="url(#gVS)"/><text x="1341.5" y="1210" font-family="Liberation Sans, sans-serif" font-size="24" font-weight="bold" fill="#fff" text-anchor="middle" >VS</text>
</svg></body></html>
